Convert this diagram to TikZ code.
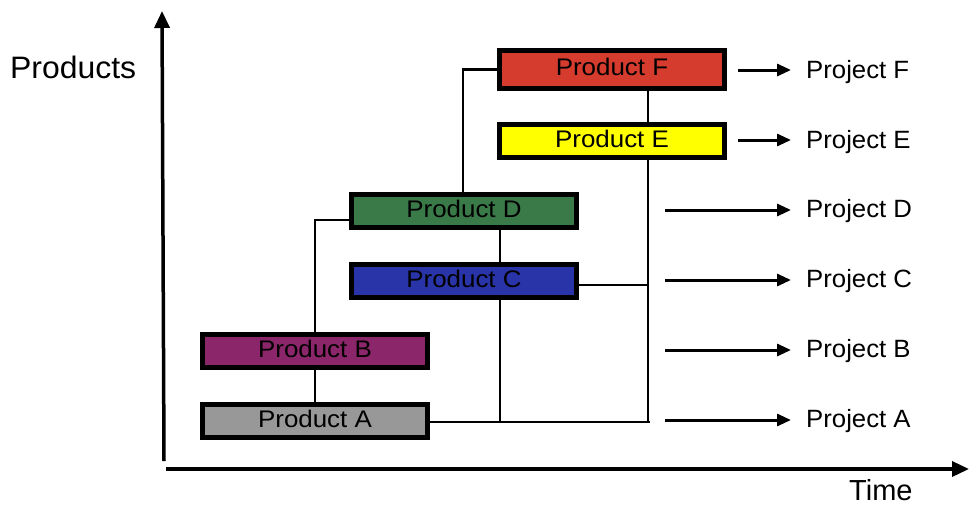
\documentclass[tikz,border=0pt]{standalone}
\usepackage{fontspec}
\usepackage{graphicx}
\setmainfont{Liberation Sans}
\usetikzlibrary{arrows.meta,calc}

\definecolor{prodA}{RGB}{152,152,152}
\definecolor{prodB}{RGB}{140,38,106}
\definecolor{prodC}{RGB}{40,52,168}
\definecolor{prodD}{RGB}{58,122,72}
\definecolor{prodE}{RGB}{255,255,0}
\definecolor{prodF}{RGB}{214,60,46}

% labels are drawn slightly widened
\newcommand\boxtext[1]{\scalebox{1.08}[1]{#1}}
\newcommand\projtext[1]{\scalebox{1.03}[1]{#1}}

\tikzset{
  prodbox/.style={draw=black, line width=5pt, minimum width=225pt,
    minimum height=33pt, inner sep=0pt, text height=12pt, text depth=0pt,
    font=\fontsize{24}{28}\selectfont},
  link/.style={line width=2.5pt, black},
  projarrow/.style={line width=3pt, black,
    -{Triangle[length=14pt, width=12pt]}},
  axisline/.style={line width=3.5pt, black,
    -{Triangle[length=17pt, width=15pt]}},
  projlabel/.style={anchor=base west, inner sep=0pt,
    font=\fontsize{25}{30}\selectfont},
}

\begin{document}
\begin{tikzpicture}[x=1pt, y=-1pt]
\useasboundingbox (0,0) rectangle (969,506);

% axes
\coordinate (yBase) at (164,461);
\coordinate (yTip) at (162,11);
\coordinate (xBase) at (166,469);
\coordinate (xTip) at (969,469);
\draw[axisline] (yBase) -- (yTip);
\draw[axisline] (xBase) -- (xTip);
\node[anchor=base west, inner sep=0pt, font=\fontsize{31}{36}\selectfont]
  (yLabel) at (10,78) {\scalebox{1.03}[1]{Products}};
\node[anchor=base west, inner sep=0pt, font=\fontsize{29}{34}\selectfont]
  (xLabel) at (849,500) {Time};

% product boxes
\node[prodbox, fill=prodA] (A) at (315,421) {\boxtext{Product A}};
\node[prodbox, fill=prodB] (B) at (315,351) {\boxtext{Product B}};
\node[prodbox, fill=prodC] (C) at (464,281) {\boxtext{Product C}};
\node[prodbox, fill=prodD] (D) at (464,211) {\boxtext{Product D}};
\node[prodbox, fill=prodE] (E) at (612,141) {\boxtext{Product E}};
\node[prodbox, fill=prodF, minimum height=38pt] (F) at (612,69.5) {\boxtext{Product F}};

% lineage connectors
\coordinate (aEnd) at (650,422);
\coordinate (cDrop) at (500,422);
\coordinate (eDrop) at (648,422);
\coordinate (cJoin) at (648,285);
\draw[link] (A.north) -- (B.south);
\draw[link] (B.north) |- ($(D.west)+(0,9)$);
\draw[link] ($(D.north)+(-1,0)$) |- (F.west);
\draw[link] ($(D.south)+(36,0)$) -- ($(C.north)+(36,0)$);
\draw[link] ($(C.south)+(36,0)$) -- (cDrop);
\draw[link] ($(F.south)+(36,0)$) -- ($(E.north)+(36,0)$);
\draw[link] ($(E.south)+(36,0)$) -- (eDrop);
\draw[link] ($(C.east)+(0,4)$) -- (cJoin);
\draw[link] ($(A.east)+(0,1)$) -- (aEnd);

% projects
\node[projlabel] (pF) at (806,78) {\projtext{Project F}};
\node[projlabel] (pE) at (806,148) {\projtext{Project E}};
\node[projlabel] (pD) at (806,217.5) {\projtext{Project D}};
\node[projlabel] (pC) at (806,287.5) {\projtext{Project C}};
\node[projlabel] (pB) at (806,357.5) {\projtext{Project B}};
\node[projlabel] (pA) at (806,427.5) {\projtext{Project A}};

\coordinate (sF) at (738,70);
\coordinate (sE) at (738,140);
\coordinate (sD) at (665,210);
\coordinate (sC) at (665,280);
\coordinate (sB) at (665,350);
\coordinate (sA) at (665,420);
\foreach \s/\p in {sF/pF, sE/pE, sD/pD, sC/pC, sB/pB, sA/pA}
  \draw[projarrow, shorten >=15pt] (\s) -- (\s -| \p.west);
\end{tikzpicture}
\end{document}
